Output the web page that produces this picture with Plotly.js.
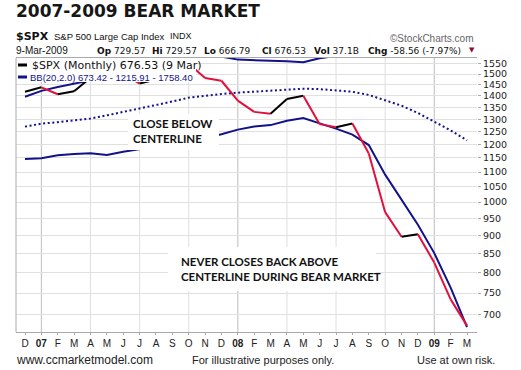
<!DOCTYPE html>
<html><head><meta charset="utf-8">
<script src="https://cdn.plot.ly/plotly-3.0.1.min.js"></script>
<style>html,body{margin:0;padding:0;background:#fff}#chart{width:521px;height:370px}</style>
</head><body><div id="chart"></div>
<script>
// ---- data (monthly, Dec 2006 .. Mar 2009) ----
const months = ['Dec 2006','Jan 2007','Feb 2007','Mar 2007','Apr 2007','May 2007','Jun 2007','Jul 2007','Aug 2007','Sep 2007','Oct 2007','Nov 2007','Dec 2007',
  'Jan 2008','Feb 2008','Mar 2008','Apr 2008','May 2008','Jun 2008','Jul 2008','Aug 2008','Sep 2008','Oct 2008','Nov 2008','Dec 2008',
  'Jan 2009','Feb 2009','Mar 2009'];
const tickLabels = ['D','<b>07</b>','F','M','A','M','J','J','A','S','O','N','D','<b>08</b>','F','M','A','M','J','J','A','S','O','N','D','<b>09</b>','F','M'];
const closes = [1418.30,1438.24,1406.82,1420.86,1482.37,1530.62,1503.35,1455.27,1473.99,1526.75,1549.38,1481.14,1468.36,
  1378.55,1330.63,1322.70,1385.59,1400.38,1280.00,1267.38,1282.83,1166.36,968.75,896.24,903.25,825.88,735.09,676.53];
const bbMiddle = [1270,1282,1288,1295,1303,1316,1330,1343,1358,1375,1392,1401,1408,
  1414,1419,1423,1428,1432,1430,1425,1418,1404,1380,1357,1326,1291,1255,1215.91];
const bbLower = [1146,1149,1160,1165,1167,1161,1173,1182,1192,1205,1215,1225,1240,
  1258,1270,1276,1294,1305,1283,1262,1238,1198,1091,1008,931,851,763,673.42];
const bbUpper = [1396,1422,1440,1455,1470,1500,1528,1545,1560,1575,1590,1595,1585,
  1570,1568,1566,1562,1557,1577,1588,1598,1610,1669,1706,1721,1731,1747,1758.40];
const yTicks = [700,750,800,850,900,950,1000,1050,1100,1150,1200,1250,1300,1350,1400,1450,1500,1550];
const quarterIdx = [4,7,10,16,19,22];   // Apr, Jul, Oct gridlines
const yearIdx = [1,13,25];              // Jan gridlines (darker)

// ---- layout helpers ----
const L=16,R=477,T=58,B=332;
const px = p => (p-L)/(R-L);
const py = p => (B-p)/(B-T);
const idx = months.map((m,i)=>i);

const NAVY='#12128a', RED='#e0103c';
const traces = [];
traces.push({x:idx,y:bbUpper,mode:'lines',line:{color:NAVY,width:2},hoverinfo:'skip'});
traces.push({x:idx,y:bbLower,mode:'lines',line:{color:NAVY,width:2},hoverinfo:'skip'});
traces.push({x:idx,y:bbMiddle,mode:'lines',line:{color:NAVY,width:2,dash:'2px,2.6px'},hoverinfo:'skip'});
for(let i=1;i<closes.length;i++){
  traces.push({x:[idx[i-1],idx[i]],y:[closes[i-1],closes[i]],mode:'lines',
    line:{color:closes[i]>=closes[i-1]?'#000000':RED,width:2},hoverinfo:'skip'});
}

function ann(text,x,y,font,extra){
  return Object.assign({xref:'paper',yref:'paper',x:px(x),y:py(y),text:text,showarrow:false,
    xanchor:'left',yanchor:'middle',align:'left',font:font},extra||{});
}
const DJ='DejaVu Sans', LS='Liberation Sans';
const annotations = [
  ann('<b>2007-2009 BEAR MARKET</b>',14,11,{family:DJ,size:17,color:'#161616'}),
  ann('<b>$SPX</b>',14,36,{family:DJ,size:11,color:'#111'}),
  ann('S&P 500 Large Cap Index',52,36,{family:LS,size:9.5,color:'#111'}),
  ann('INDX',168,36,{family:LS,size:9,color:'#111'}),
  ann('©StockCharts.com',476,38,{family:LS,size:10,color:'#666'},{xanchor:'right'}),
  ann('9-Mar-2009',14,51,{family:LS,size:10,color:'#111'}),
  ann('<b>Op</b> 729.57',95,51,{family:DJ,size:9,color:'#111'}),
  ann('<b>Hi</b> 729.57',150,51,{family:DJ,size:9,color:'#111'}),
  ann('<b>Lo</b> 666.79',202,51,{family:DJ,size:9,color:'#111'}),
  ann('<b>Cl</b> 676.53',260,51,{family:DJ,size:9,color:'#111'}),
  ann('<b>Vol</b> 37.1B',312,51,{family:DJ,size:9,color:'#111'}),
  ann('<b>Chg</b> -58.56 (-7.97%)',366,51,{family:DJ,size:9,color:'#111'}),
  ann('▼',467,50,{family:DJ,size:7,color:'#8b0a3a'}),
  // legend
  ann('$SPX (Monthly) 676.53 (9 Mar)',30,65,{family:DJ,size:11,color:'#111'}),
  ann('BB(20,2.0) 673.42 - 1215.91 - 1758.40',28,77,{family:LS,size:9.5,color:NAVY}),
  // text boxes
  ann('<b>CLOSE BELOW</b><br><b>CENTERLINE</b>',131,131,{family:'Lato',size:11.5,color:'#111'}),
  ann('<b>NEVER CLOSES BACK ABOVE</b><br><b>CENTERLINE DURING BEAR MARKET</b>',179,269,{family:'Lato',size:11.5,color:'#111'}),
  // footer
  ann('www.ccmarketmodel.com',14,360,{family:LS,size:12,color:'#222'}),
  ann('For illustrative purposes only.',263,360,{family:LS,size:11,color:'#222'},{xanchor:'center'}),
  ann('Use at own risk.',497,360,{family:LS,size:11,color:'#222'},{xanchor:'right'})
];

const shapes = [];
quarterIdx.forEach(q=>shapes.push({type:'line',xref:'x',yref:'paper',x0:q,x1:q,y0:0,y1:1,layer:'below',line:{color:'#dedede',width:1}}));
yearIdx.forEach(q=>shapes.push({type:'line',xref:'x',yref:'paper',x0:q,x1:q,y0:0,y1:1,layer:'below',line:{color:'#bdbdbd',width:1}}));
// legend / text backgrounds
shapes.push({type:'rect',xref:'paper',yref:'paper',x0:0,x1:px(196),y0:py(82),y1:1,layer:'above',fillcolor:'#fff',line:{width:0}});
shapes.push({type:'rect',xref:'paper',yref:'paper',x0:px(128),x1:px(219),y0:py(150),y1:py(114),layer:'above',fillcolor:'#fff',line:{width:0}});
shapes.push({type:'rect',xref:'paper',yref:'paper',x0:px(168),x1:px(376),y0:py(291),y1:py(247),layer:'above',fillcolor:'#fff',line:{width:0}});
// legend swatches
shapes.push({type:'line',xref:'paper',yref:'paper',x0:px(18),x1:px(27),y0:py(65),y1:py(65),layer:'above',line:{color:'#000',width:3}});
shapes.push({type:'line',xref:'paper',yref:'paper',x0:px(18),x1:px(27),y0:py(77),y1:py(77),layer:'above',line:{color:NAVY,width:3}});
// left border
shapes.push({type:'line',xref:'paper',yref:'paper',x0:0,x1:0,y0:0,y1:1,layer:'above',line:{color:'#a8a8a8',width:1}});

const layout = {
  width:521,height:370,
  margin:{l:L,r:521-R,t:T,b:370-B,pad:0},
  paper_bgcolor:'#fff',plot_bgcolor:'#fff',showlegend:false,
  xaxis:{range:[-0.55,27.61],tickmode:'array',tickvals:idx,ticktext:tickLabels,showgrid:false,zeroline:false,
    ticks:'outside',ticklen:2,tickcolor:'#aaa',showline:true,mirror:true,linecolor:'#a8a8a8',linewidth:1,
    tickfont:{family:LS,size:10,color:'#222'},fixedrange:true},
  yaxis:{type:'log',range:[Math.log10(663),Math.log10(1578)],side:'right',tickmode:'array',tickvals:yTicks,
    ticktext:yTicks.map(String),showgrid:true,gridcolor:'#e0e0e0',gridwidth:1,zeroline:false,showline:false,
    ticks:'outside',ticklen:3,tickcolor:'#aaa',tickfont:{family:DJ,size:9.5,color:'#222'},fixedrange:true},
  annotations:annotations,shapes:shapes
};
Plotly.newPlot('chart',traces,layout,{staticPlot:true,displayModeBar:false});
</script></body></html>
